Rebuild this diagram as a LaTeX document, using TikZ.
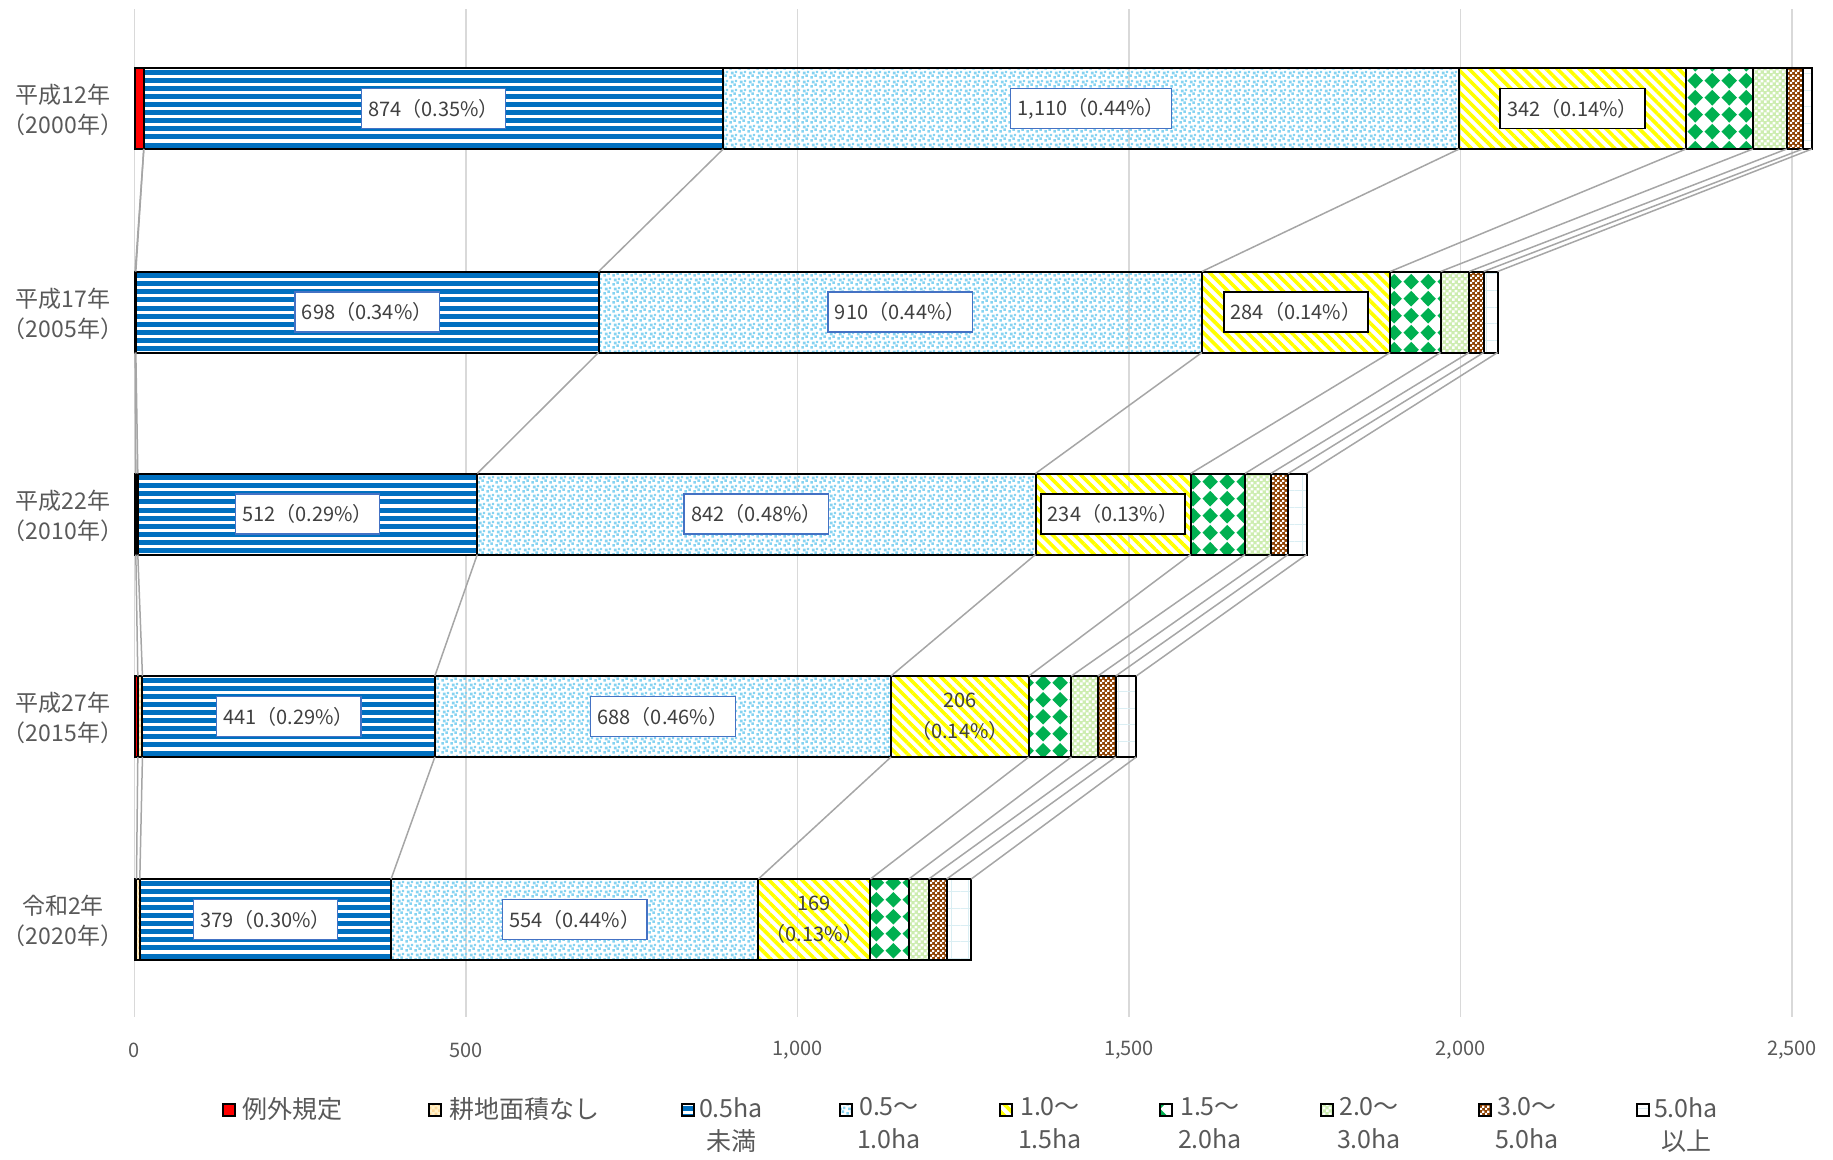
\documentclass[tikz,border=0pt]{standalone}
\usepackage{fontspec}
\setmainfont{Noto Sans CJK JP}
\usetikzlibrary{patterns.meta,calc}

\definecolor{txtgray}{HTML}{595959}
\definecolor{lbltext}{HTML}{404040}
\definecolor{gridgray}{HTML}{D9D9D9}
\definecolor{sergray}{HTML}{A6A6A6}
\definecolor{boxblue}{HTML}{4472C4}
\definecolor{stripeblue}{HTML}{0070C0}
\definecolor{dotblue}{HTML}{86D3F1}
\definecolor{diagreen}{HTML}{00B050}
\definecolor{palegreen}{HTML}{CDEDB0}
\definecolor{rustbrown}{HTML}{8E4100}
\definecolor{gridblue}{HTML}{DAEEF3}
\definecolor{beige}{HTML}{FFF2CC}
\definecolor{beigedark}{HTML}{FFD99A}

\tikzdeclarepattern{
  name=greendia,
  type=uncolored,
  bounding box={(0,0) and (16.7pt,16.7pt)},
  tile size={(16.7pt,16.7pt)},
  code={
    \fill (8.35pt,0.5pt) -- (16.2pt,8.35pt) -- (8.35pt,16.2pt) -- (0.5pt,8.35pt) -- cycle;
  }
}
\tikzdeclarepattern{
  name=bluedots,
  type=uncolored,
  bounding box={(0,0) and (9pt,9pt)},
  tile size={(9pt,9pt)},
  code={
    \fill (0.3pt,0.3pt) rectangle (3.1pt,3.1pt);
    \fill (4.8pt,2.2pt) rectangle (7.6pt,5pt);
    \fill (2.2pt,5.2pt) rectangle (5pt,8pt);
    \fill (6.4pt,6.4pt) rectangle (8.9pt,8.9pt);
  }
}
\tikzdeclarepattern{
  name=smallcheck,
  type=uncolored,
  bounding box={(0,0) and (6pt,6pt)},
  tile size={(6pt,6pt)},
  code={
    \fill (0,0) rectangle (3pt,3pt);
    \fill (3pt,3pt) rectangle (6pt,6pt);
  }
}
\tikzdeclarepattern{
  name=tinycheck,
  type=uncolored,
  bounding box={(0,0) and (5pt,5pt)},
  tile size={(5pt,5pt)},
  code={
    \fill (0,0) rectangle (2.5pt,2.5pt);
    \fill (2.5pt,2.5pt) rectangle (5pt,5pt);
  }
}

\begin{document}
\begin{tikzpicture}[x=1pt,y=-1pt]
  \newcommand{\Xzero}[0]{ 134.5pt }
  \newcommand{\unitx}[0]{ 0.663pt }
  \newcommand{\barhalf}[0]{ 40.5 }
  \newcommand{\Ytick}[0]{ 1050 }
  \newcommand{\Ylegend}[0]{ 1110 }
  \newcommand{\Ylegtext}[0]{ 1097.5 }

  \tikzstyle{seg}=[draw=black, line width=2pt]
  \tikzstyle{sgred}=[fill=red]
  \tikzstyle{sgnone}=[preaction={fill=beige}, pattern=smallcheck, pattern color=beigedark]
  \tikzstyle{sglt}=[
    fill=white,
    path picture={
      \foreach \s in {0,...,10} {
        \fill[stripeblue]
          ($(path picture bounding box.north west)+(0,-\s*8.1pt-1.6pt)$) rectangle
          ($(path picture bounding box.north east)+(0,-\s*8.1pt-6.6pt)$);
      }
    },
  ]
  \tikzstyle{sgmid}=[pattern=bluedots, pattern color=dotblue]
  \tikzstyle{sgyel}=[pattern={Lines[angle=-45,distance=7.8pt,line width=3.6pt]}, pattern color=yellow]
  \tikzstyle{sggrn}=[pattern=greendia, pattern color=diagreen]
  \tikzstyle{sglgr}=[preaction={fill=palegreen}, pattern=smallcheck, pattern color=white]
  \tikzstyle{sgbrn}=[preaction={fill=rustbrown}, pattern=tinycheck, pattern color=white]
  \tikzstyle{sgbig}=[pattern={Hatch[angle=0,distance=16.7pt,line width=1pt]}, pattern color=gridblue]

  \tikzstyle{gridline}=[draw=gridgray, line width=1.5pt]
  \tikzstyle{serline}=[draw=sergray, line width=1.5pt]
  \tikzstyle{lbl}=[
    fill=white,
    text=lbltext,
    font=\fontsize{20}{24}\selectfont,
    inner xsep=7pt,
    inner ysep=0pt,
    minimum height=40pt,
    line width=1.3pt,
  ]
  \tikzstyle{lblblue}=[lbl, draw=boxblue]
  \tikzstyle{lblblack}=[lbl, draw=black, line width=1.8pt]
  \tikzstyle{lblplain}=[text=lbltext, align=center, font=\fontsize{20}{31}\selectfont]
  \tikzstyle{catlbl}=[text=txtgray, align=center, font=\fontsize{23}{30}\selectfont]
  \tikzstyle{ticklbl}=[text=txtgray, font=\fontsize{20}{22}\selectfont]
  \tikzstyle{legmark}=[draw=black, line width=1.8pt, minimum size=12pt, inner sep=0pt]
  \tikzstyle{legtxt}=[text=txtgray, align=center, font=\fontsize{25}{33}\selectfont, inner sep=0pt, anchor=north]

  % #1: prefix
  % #2: y center
  % #3: cumulative ends
  \newcommand{\buildBar}[3]{
    \foreach \c [count=\i from 0] in {#3} {
      \coordinate (#1-t\i) at (\c, #2-\barhalf);
      \coordinate (#1-b\i) at (\c, #2+\barhalf);
    }
    \foreach \st [count=\i] in {sgred,sgnone,sglt,sgmid,sgyel,sggrn,sglgr,sgbrn,sgbig} {
      \pgfmathtruncatemacro{\j}{\i-1}
      \draw[seg,\st] (#1-t\j) rectangle (#1-b\i);
    }
  }

  \useasboundingbox (0,0) rectangle (1833,1159);

  \begin{scope}[xshift=\Xzero, x=\unitx]
    % grid and axis
    \foreach \v in {0,500,...,2500} {
      \draw[gridline] (\v,9) -- (\v,1017);
    }
    \foreach \v/\t in {0/0,500/500,1000/{1,000},1500/{1,500},2000/{2,000},2500/{2,500}} {
      \node[ticklbl] (tick\v) at (\v,\Ytick) {\t};
    }

    % bars
    \buildBar{y2000}{108.5}{0,14,14,888,1998,2340,2441,2492,2516,2530}
    \buildBar{y2005}{312}{0,1,2,700,1610,1894,1970,2013,2035,2056}
    \buildBar{y2010}{514}{0,2,5,517,1359,1593,1675,1714,1740,1768}
    \buildBar{y2015}{716.5}{0,5,12,453,1141,1349,1413,1453,1480,1511}
    \buildBar{y2020}{919.5}{0,3,8,387,941,1110,1168,1198,1225,1262}

    % series lines
    \foreach \up/\dn in {y2000/y2005,y2005/y2010,y2010/y2015,y2015/y2020} {
      \foreach \k in {1,...,9} {
        \draw[serline] (\up-b\k) -- (\dn-t\k);
      }
    }

    % data labels
    \node[lblblue]  (lab2000a) at ($(y2000-t2)!0.5!(y2000-b3)$) {874（0.35\%）};
    \node[lblblue]  (lab2000b) at ($(y2000-t3)!0.5!(y2000-b4)$) {1,110（0.44\%）};
    \node[lblblack] (lab2000c) at ($(y2000-t4)!0.5!(y2000-b5)$) {342（0.14\%）};

    \node[lblblue]  (lab2005a) at ($(y2005-t2)!0.5!(y2005-b3)$) {698（0.34\%）};
    \node[lblblue]  (lab2005b) at ($(y2005-t3)!0.5!(y2005-b4)$) {910（0.44\%）};
    \node[lblblack] (lab2005c) at ($(y2005-t4)!0.5!(y2005-b5)$) {284（0.14\%）};

    \node[lblblue]  (lab2010a) at ($(y2010-t2)!0.5!(y2010-b3)$) {512（0.29\%）};
    \node[lblblue]  (lab2010b) at ($(y2010-t3)!0.5!(y2010-b4)$) {842（0.48\%）};
    \node[lblblack] (lab2010c) at ($(y2010-t4)!0.5!(y2010-b5)$) {234（0.13\%）};

    \node[lblblue]  (lab2015a) at ($(y2015-t2)!0.5!(y2015-b3)$) {441（0.29\%）};
    \node[lblblue]  (lab2015b) at ($(y2015-t3)!0.5!(y2015-b4)$) {688（0.46\%）};
    \node[lblplain] (lab2015c) at ($(y2015-t4)!0.5!(y2015-b5)$) {206\\（0.14\%）};

    \node[lblblue]  (lab2020a) at ($(y2020-t2)!0.5!(y2020-b3)$) {379（0.30\%）};
    \node[lblblue]  (lab2020b) at ($(y2020-t3)!0.5!(y2020-b4)$) {554（0.44\%）};
    \node[lblplain] (lab2020c) at ($(y2020-t4)!0.5!(y2020-b5)$) {169\\（0.13\%）};
  \end{scope}

  % category labels
  \node[catlbl] (cat2000) at (63,110) {平成12年\\（2000年）};
  \node[catlbl] (cat2005) at (63,313.5) {平成17年\\（2005年）};
  \node[catlbl] (cat2010) at (63,515.5) {平成22年\\（2010年）};
  \node[catlbl] (cat2015) at (63,718) {平成27年\\（2015年）};
  \node[catlbl] (cat2020) at (63,921) {令和2年\\（2020年）};

  % legend
  \node[legmark,sgred]  (mk1) at (229,\Ylegend) {};
  \node[legmark,sgnone] (mk2) at (435,\Ylegend) {};
  \node[legmark,sglt]   (mk3) at (688,\Ylegend) {};
  \node[legmark,sgmid]  (mk4) at (846,\Ylegend) {};
  \node[legmark,sgyel]  (mk5) at (1006,\Ylegend) {};
  \node[legmark,sggrn]  (mk6) at (1166,\Ylegend) {};
  \node[legmark,sglgr]  (mk7) at (1327,\Ylegend) {};
  \node[legmark,sgbrn]  (mk8) at (1485,\Ylegend) {};
  \node[legmark,sgbig]  (mk9) at (1643,\Ylegend) {};

  \node[legtxt,anchor=north west] (lg1) at (242,\Ylegtext) {例外規定};
  \node[legtxt,anchor=north west] (lg2) at (449,\Ylegtext) {耕地面積なし};
  \node[legtxt] (lg3) at (731,\Ylegtext) {0.5ha\\未満};
  \node[legtxt] (lg4) at (889,\Ylegtext) {0.5～\\1.0ha};
  \node[legtxt] (lg5) at (1050,\Ylegtext) {1.0～\\1.5ha};
  \node[legtxt] (lg6) at (1210,\Ylegtext) {1.5～\\2.0ha};
  \node[legtxt] (lg7) at (1369,\Ylegtext) {2.0～\\3.0ha};
  \node[legtxt] (lg8) at (1527,\Ylegtext) {3.0～\\5.0ha};
  \node[legtxt] (lg9) at (1686,\Ylegtext) {5.0ha\\以上};
\end{tikzpicture}
\end{document}
